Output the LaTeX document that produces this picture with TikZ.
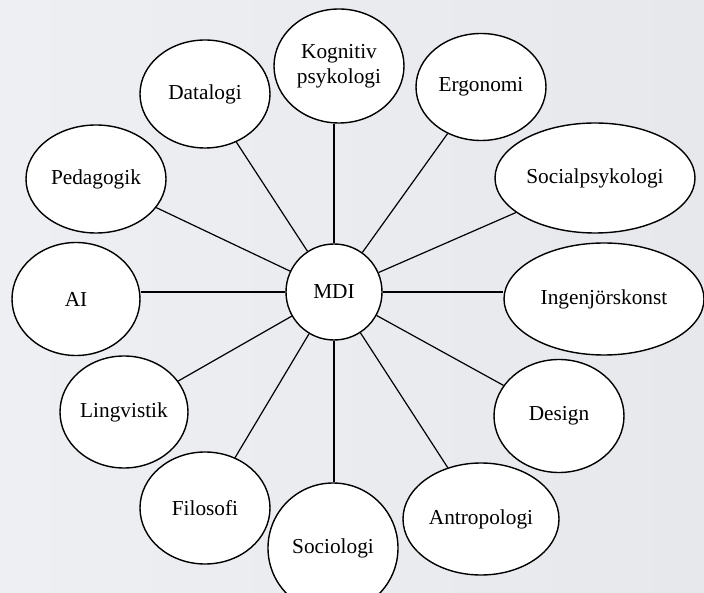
\documentclass[tikz,border=0pt]{standalone}
\usepackage{fontspec}
\setmainfont{Liberation Serif}
\usetikzlibrary{shapes.geometric}

\definecolor{hgrund}{RGB}{230,232,236}
\definecolor{hgrundljus}{RGB}{238,239,242}

\begin{document}
\begin{tikzpicture}[x=1pt,y=-1pt,
		fach/.style={ellipse, draw=black, line width=1.4pt, fill=white, inner sep=0pt, align=center, font=\fontsize{21.3}{25}\selectfont},
		band/.style={black, line width=1.2pt}]
		% bakgrund
		\shade[left color=hgrundljus, right color=hgrund] (0,0) rectangle (704,593);
		\useasboundingbox (0,0) rectangle (704,593);
%		\draw[step=50,red] (0,0) grid (704,593);
		\node[fach, minimum width=96, minimum height=96] (mdi) at (334,292) {MDI};
		\node[fach, minimum width=130, minimum height=114] (kog) at (339,66) {Kognitiv\\psykologi};
		\node[fach, minimum width=130, minimum height=107] (erg) at (481,87) {Ergonomi};
		\node[fach, minimum width=200, minimum height=110] (spsy) at (595,178) {Socialpsykologi};
		\node[fach, minimum width=200, minimum height=112] (ing) at (604,299) {Ingenjörskonst};
		\node[fach, minimum width=130, minimum height=113] (des) at (559,416) {Design};
		\node[fach, minimum width=156, minimum height=112] (ant) at (481,519) {Antropologi};
		\node[fach, minimum width=130, minimum height=130] (soc) at (333,548) {Sociologi};
		\node[fach, minimum width=130, minimum height=112] (fil) at (205,508) {Filosofi};
		\node[fach, minimum width=128, minimum height=112] (lin) at (124,412) {Lingvistik};
		\node[fach, minimum width=128, minimum height=113] (ai) at (76,299) {AI};
		\node[fach, minimum width=140, minimum height=108] (ped) at (96,179) {Pedagogik};
		\node[fach, minimum width=130, minimum height=108] (dat) at (205,94) {Datalogi};
		% kopplingar till MDI
		\draw[band] (mdi) -- (mdi |- kog.south);
		\draw[band] (mdi) -- (erg);
		\draw[band] (mdi) -- (spsy);
		\draw[band] (mdi) -- (ing.west |- mdi);
		\draw[band] (mdi) -- (des);
		\draw[band] (mdi) -- (ant);
		\draw[band] (mdi) -- (mdi |- soc.north);
		\draw[band] (mdi) -- (fil);
		\draw[band] (mdi) -- (lin);
		\draw[band] (mdi) -- (ai.east |- mdi);
		\draw[band] (mdi) -- (ped);
		\draw[band] (mdi) -- (dat);
	\end{tikzpicture}
\end{document}
